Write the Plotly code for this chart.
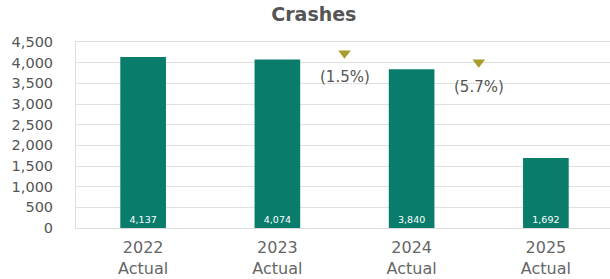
import plotly.graph_objects as go

categories = ["2022<br>Actual", "2023<br>Actual", "2024<br>Actual", "2025<br>Actual"]
crashes = [4137, 4074, 3840, 1692]
change_labels = ["(1.5%)", "(5.7%)"]
change_x = [1.5, 2.5]
marker_y = [4230, 4010]
label_y = [3650, 3420]
y_ticks = list(range(0, 4501, 500))

x_idx = list(range(len(categories)))
FONT = "DejaVu Sans"

fig = go.Figure()
fig.add_trace(go.Bar(
    x=x_idx, y=crashes,
    marker=dict(color="#0a7c6c", line=dict(width=0)),
    text=[f"{v:,}" for v in crashes],
    textposition="inside", insidetextanchor="start",
    textfont=dict(color="white", size=9.5, family=FONT),
    width=0.34, cliponaxis=False, showlegend=False,
))
fig.add_trace(go.Scatter(
    x=change_x, y=marker_y, mode="markers",
    marker=dict(symbol="triangle-down", size=11, color="#a89c2c"),
    showlegend=False, cliponaxis=False,
))
for xv, yv, t in zip(change_x, label_y, change_labels):
    fig.add_annotation(x=xv, y=yv, text=t, showarrow=False,
                       font=dict(size=15, color="#555555", family=FONT))

fig.update_layout(
    width=613, height=279,
    margin=dict(l=76, r=0, t=42, b=51),
    paper_bgcolor="white", plot_bgcolor="white",
    title=dict(text="<b>Crashes</b>", x=0.512, xanchor="center", y=0.948, yanchor="middle",
               font=dict(size=19, color="#555555", family=FONT)),
    xaxis=dict(range=[-0.5, 3.5], tickvals=x_idx, ticktext=categories,
               tickfont=dict(size=16, color="#666666", family=FONT),
               showgrid=False, zeroline=False, showline=True, linecolor="#dddddd",
               mirror=True, ticks="", ticklabelstandoff=5),
    yaxis=dict(range=[0, 4500], tickvals=y_ticks, tickformat=",",
               tickfont=dict(size=14.5, color="#555555", family=FONT),
               showgrid=True, gridcolor="#e0e0e0", zeroline=False,
               showline=True, linecolor="#dddddd", mirror=True,
               ticks="outside", ticklen=19, tickcolor="rgba(0,0,0,0)"),
)

fig.write_html("out.html", config={"displayModeBar": False},
               post_script="document.body.style.margin='0px';document.body.style.overflow='hidden';document.documentElement.style.overflow='hidden';")
